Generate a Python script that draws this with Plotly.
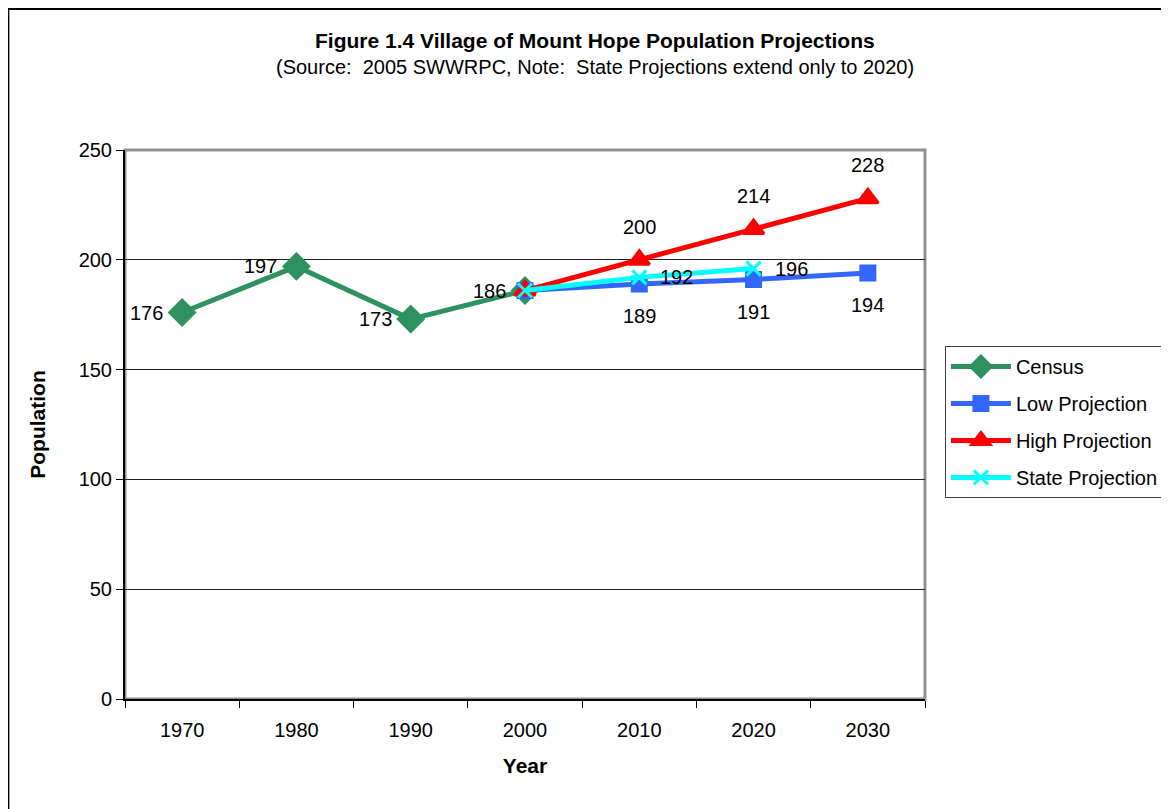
import plotly.graph_objects as go

years = ["1970", "1980", "1990", "2000", "2010", "2020", "2030"]
census = [176, 197, 173, 186, None, None, None]
low_proj = [None, None, None, 186, 189, 191, 194]
high_proj = [None, None, None, 186, 200, 214, 228]
state_proj = [None, None, None, 186, 192, 196, None]
y_ticks = [0, 50, 100, 150, 200, 250]

FONT = "Liberation Sans, Arial, sans-serif"
FS = 20
fig = go.Figure()

series = [
    ("Census", census, "#2E9160", "diamond", 19),
    ("Low Projection", low_proj, "#3366FF", "square", 14),
    ("High Projection", high_proj, "#FF0000", "triangle-up", 18),
    ("State Projection", state_proj, "#00FFFF", "x-thin", 14),
]
for name, vals, col, sym, size in series:
    fig.add_trace(go.Scatter(
        x=years, y=vals, name=name, mode="lines+markers",
        legendgroup=name,
        line=dict(color=col, width=5),
        marker=dict(color=col, symbol=sym, size=size,
                    line=dict(color=col, width=3)),
        connectgaps=False,
    ))

annotations = []
def lab(vals, xanchor, yanchor, xshift, yshift, skip_2000=False):
    for i, v in enumerate(vals):
        if v is None:
            continue
        if skip_2000 and years[i] == "2000":
            continue
        annotations.append(dict(x=i, y=v, xref="x", yref="y", text=str(v),
                                showarrow=False, xanchor=xanchor, yanchor=yanchor,
                                xshift=xshift, yshift=yshift,
                                font=dict(family=FONT, size=FS, color="black")))

lab(census, "right", "middle", -17, 0)
lab(low_proj, "center", "middle", 0, -32, True)
lab(high_proj, "center", "middle", 0, 33, True)
lab(state_proj, "left", "middle", 19, 0, True)

annotations += [
    dict(text="<b>Figure 1.4 Village of Mount Hope Population Projections</b>",
         xref="paper", yref="paper", x=0.5876, y=1, xanchor="center", yanchor="middle",
         yshift=110, showarrow=False, font=dict(family=FONT, size=21, color="black")),
    dict(text="(Source:  2005 SWWRPC, Note:  State Projections extend only to 2020)",
         xref="paper", yref="paper", x=0.5876, y=1, xanchor="center", yanchor="middle",
         yshift=83, showarrow=False, font=dict(family=FONT, size=FS, color="black")),
]

fig.update_layout(
    width=1161, height=801,
    margin=dict(l=117, r=244, t=142, b=110, autoexpand=False),
    paper_bgcolor="white", plot_bgcolor="white",
    font=dict(family=FONT, size=FS, color="black"),
    showlegend=True,
    legend=dict(x=0.807, xref="container", xanchor="left",
                y=0.578, yref="container", yanchor="top",
                bordercolor="#404040", borderwidth=1, bgcolor="white",
                font=dict(family=FONT, size=FS, color="black"),
                traceorder="grouped", tracegroupgap=8, itemwidth=60),
    annotations=annotations,
    shapes=[
        dict(type="rect", xref="paper", yref="paper", x0=0, x1=1, y0=0, y1=1,
             line=dict(color="#909090", width=3), layer="below"),
        dict(type="rect", xref="paper", yref="paper", x0=-0.1458, x1=1.5, y0=-0.3, y1=1.257,
             line=dict(color="black", width=2), layer="below"),
    ],
)
fig.update_xaxes(
    type="category", categoryorder="array", categoryarray=years,
    range=[-0.5, 6.5], tickson="boundaries", ticks="outside", ticklen=7,
    tickcolor="black", showline=True, linecolor="black", linewidth=2,
    showgrid=False, zeroline=False, ticklabelstandoff=12,
    title=dict(text="<b>Year</b>", font=dict(family=FONT, size=21), standoff=18),
    tickfont=dict(family=FONT, size=FS),
)
fig.update_yaxes(
    range=[0, 250], tickvals=y_ticks, ticks="outside", ticklen=7, tickcolor="black",
    showline=True, linecolor="black", linewidth=2,
    showgrid=True, gridcolor="#222222", gridwidth=1, zeroline=False,
    title=dict(text="<b>Population</b>", font=dict(family=FONT, size=21), standoff=27),
    tickfont=dict(family=FONT, size=FS),
)
fig.write_html("out.html")
